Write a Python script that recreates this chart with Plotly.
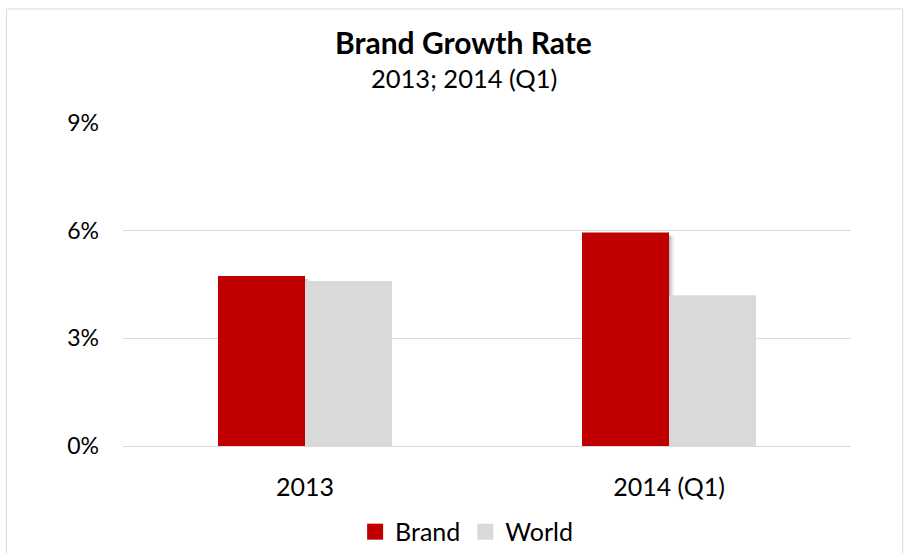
import plotly.graph_objects as go

# Chart data
categories = ["2013", "2014 (Q1)"]
brand = [4.74, 5.95]
world = [4.60, 4.20]
y_ticks = [0, 3, 6, 9]

RED = "#C00000"
GREY = "#D9D9D9"
FONT = "Lato"

x_idx = list(range(len(categories)))
bar_w = 0.239

fig = go.Figure()

# soft drop shadow behind the Brand bars
for shift, alpha in [(0.004, 0.14), (0.009, 0.09), (0.015, 0.05)]:
    fig.add_trace(go.Bar(
        x=x_idx, y=[v - 0.03 for v in brand], base=-0.06,
        width=bar_w, offset=-bar_w + shift,
        marker=dict(color=f"rgba(0,0,0,{alpha})", line=dict(width=0)),
        showlegend=False, hoverinfo="skip",
    ))

fig.add_trace(go.Bar(
    x=x_idx, y=brand, name="Brand", width=bar_w, offset=-bar_w,
    marker=dict(color=RED, line=dict(width=0)), showlegend=False,
))
fig.add_trace(go.Bar(
    x=x_idx, y=world, name="World", width=bar_w, offset=0,
    marker=dict(color=GREY, line=dict(width=0)), showlegend=False,
))

# legend entries with larger square swatches
for name, color in [("Brand", RED), ("World", GREY)]:
    fig.add_trace(go.Scatter(
        x=[None], y=[None], mode="markers", name=name,
        marker=dict(symbol="square", size=16, color=color),
    ))

fig.update_layout(
    width=907, height=553,
    barmode="overlay",
    paper_bgcolor="white", plot_bgcolor="white",
    margin=dict(l=123, r=56, t=123, b=107, autoexpand=False),
    font=dict(family=FONT, size=25, color="#000000"),
    showlegend=True,
    legend=dict(
        orientation="h", x=0.472, xanchor="center", y=-0.266, yanchor="middle",
        font=dict(size=25, family=FONT), itemwidth=30, traceorder="normal",
        itemsizing="trace",
    ),
    xaxis=dict(
        range=[-0.5, 1.5], tickmode="array", tickvals=x_idx, ticktext=categories,
        showgrid=False, zeroline=False, showline=False, ticks="",
        tickfont=dict(size=25), ticklabelstandoff=24,
    ),
    yaxis=dict(
        range=[0, 9], tickmode="array", tickvals=y_ticks,
        ticktext=[f"{v}%" for v in y_ticks],
        showgrid=True, gridcolor=GREY, gridwidth=1,
        zeroline=True, zerolinecolor=GREY, zerolinewidth=1,
        showline=False, ticks="", tickfont=dict(size=23), ticklabelstandoff=23,
    ),
    annotations=[
        dict(text="<b>Brand Growth Rate</b>", x=0.468, y=1.251,
             xref="paper", yref="paper", showarrow=False,
             font=dict(size=30, family=FONT), yanchor="middle"),
        dict(text="2013; 2014 (Q1)", x=0.468, y=1.138,
             xref="paper", yref="paper", showarrow=False,
             font=dict(size=25.5, family=FONT), yanchor="middle"),
    ],
    shapes=[
        dict(type="rect", xref="paper", yref="paper",
             x0=-0.160, x1=1.071, y0=-0.40, y1=1.353,
             line=dict(color="#D9D9D9", width=1), fillcolor="rgba(0,0,0,0)",
             layer="below"),
    ],
)

fig.write_html("out.html")
